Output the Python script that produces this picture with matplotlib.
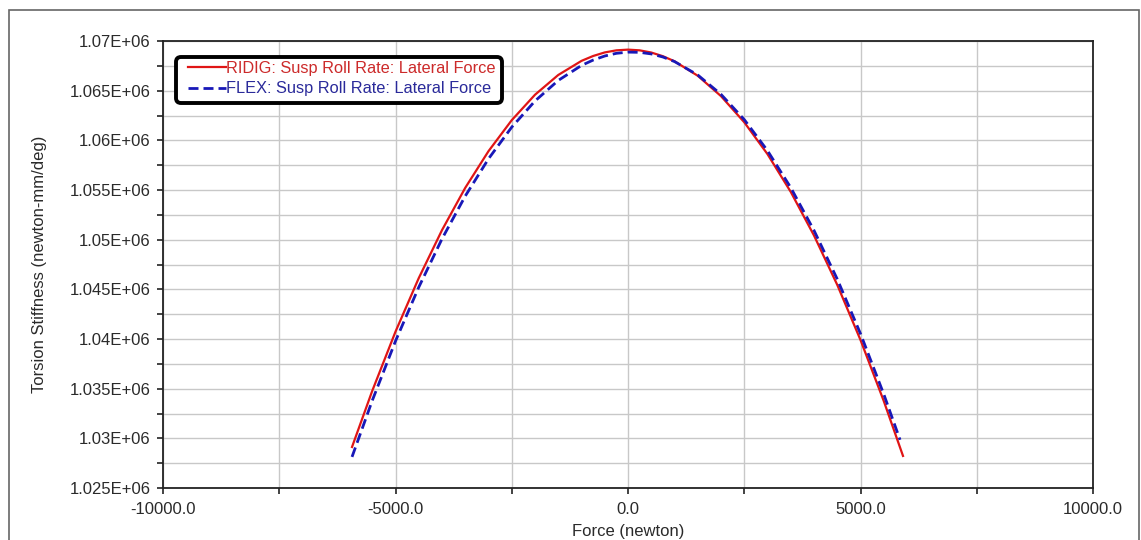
import matplotlib
matplotlib.use("Agg")
import matplotlib.pyplot as plt
from matplotlib.ticker import MultipleLocator, FuncFormatter
from matplotlib.patches import Rectangle, FancyBboxPatch
from matplotlib.transforms import Affine2D

plt.rcParams['font.family'] = ['Liberation Sans', 'DejaVu Sans']

# Data
rigid_force = [-5935, -5500, -5000, -4500, -4000, -3500, -3000, -2500, -2000, -1500, -1000, -750, -500,
               -250, 0, 250, 500, 750, 1000, 1500, 2000, 2500, 3000, 3500, 4000, 4500, 5000, 5500, 5914]
rigid_stiff = [1.02913e6, 1.03478e6, 1.04074e6, 1.04613e6, 1.05096e6, 1.05522e6, 1.05891e6,
               1.06203e6, 1.06459e6, 1.06658e6, 1.06800e6, 1.06849e6, 1.06885e6, 1.06906e6,
               1.06913e6, 1.06906e6, 1.06884e6, 1.06847e6, 1.06796e6, 1.06650e6, 1.06445e6,
               1.06182e6, 1.05861e6, 1.05481e6, 1.05042e6, 1.04545e6, 1.03990e6, 1.03376e6,
               1.02823e6]

flex_force = [-5935, -5500, -5000, -4500, -4000, -3500, -3000, -2500, -2000, -1500, -1000, -750, -500,
              -250, 0, 250, 500, 750, 1000, 1500, 2000, 2500, 3000, 3500, 4000, 4500, 5000, 5500, 5850]
flex_stiff = [1.02813e6, 1.03380e6, 1.03979e6, 1.04521e6, 1.05008e6, 1.05439e6, 1.05814e6,
              1.06133e6, 1.06396e6, 1.06603e6, 1.06754e6, 1.06808e6, 1.06849e6, 1.06876e6,
              1.06888e6, 1.06886e6, 1.06870e6, 1.06839e6, 1.06793e6, 1.06658e6, 1.06463e6,
              1.06209e6, 1.05896e6, 1.05524e6, 1.05093e6, 1.04603e6, 1.04053e6, 1.03445e6,
              1.02985e6]

series_labels = ["RIDIG: Susp Roll Rate: Lateral Force", "FLEX: Susp Roll Rate: Lateral Force"]
x_label = "Force (newton)"
y_label = "Torsion Stiffness (newton-mm/deg)"

W, H = 1141, 540
fig = plt.figure(figsize=(W / 100, H / 100), dpi=100)
ax = fig.add_axes([163 / W, 1 - 488 / H, (1093 - 163) / W, (488 - 41) / H])

red = "#e01515"
blue = "#1818b8"
ax.plot(rigid_force, rigid_stiff, color=red, lw=1.6, label=series_labels[0], zorder=3)
ax.plot(flex_force, flex_stiff, color=blue, lw=2.0, dashes=(3.6, 1.8), label=series_labels[1], zorder=4)

ax.set_xlim(-10000, 10000)
ax.set_ylim(1.025e6, 1.07e6)
ax.xaxis.set_major_locator(MultipleLocator(5000))
ax.xaxis.set_minor_locator(MultipleLocator(2500))
ax.yaxis.set_major_locator(MultipleLocator(5000))
ax.yaxis.set_minor_locator(MultipleLocator(2500))
ax.xaxis.set_major_formatter(FuncFormatter(lambda v, p: f"{v:.1f}"))
ax.yaxis.set_major_formatter(FuncFormatter(lambda v, p: f"{v / 1e6:g}E+06"))

ax.grid(True, which='both', color="#c8c8c8", lw=1.0)
ax.set_axisbelow(True)
ax.tick_params(which='both', direction='out', length=4, width=1.2, color='#222222',
               labelsize=12, labelcolor='#2a2a2a')
ax.tick_params(axis='y', pad=5)
ax.tick_params(axis='x', pad=6)
for s in ax.spines.values():
    s.set_color('#222222')
    s.set_linewidth(1.3)

ax.set_xlabel(x_label, fontsize=12, color='#2a2a2a', labelpad=5)
ax.set_ylabel(y_label, fontsize=12, color='#2a2a2a', labelpad=16)

# pixel coordinates (origin top-left) -> figure
pix = Affine2D().scale(1 / W, -1 / H).translate(0, 1) + fig.transFigure

leg = ax.legend(loc='upper left', bbox_to_anchor=(188 / W, 1 - 61 / H), bbox_transform=fig.transFigure,
                borderaxespad=0, borderpad=0, fontsize=11.8, handlelength=2.3, handletextpad=0.02,
                labelspacing=0.33, frameon=False)
for t, c in zip(leg.get_texts(), ["#cc2a2a", "#2a2a9a"]):
    t.set_color(c)
leg.set_zorder(6)

box = FancyBboxPatch((176, 57), 502 - 176, 103 - 57, boxstyle="round,pad=0,rounding_size=5",
                     transform=pix, facecolor='white', edgecolor='black', lw=2.8, zorder=5)
box.set_clip_on(False)
ax.add_patch(box)

fig.patches.append(Rectangle((9 / W, -0.05), (1139 - 9) / W, (540 - 10) / H + 0.05,
                             transform=fig.transFigure, fill=False, edgecolor='#666666', lw=1.2))

fig.savefig("out.png", dpi=100)
